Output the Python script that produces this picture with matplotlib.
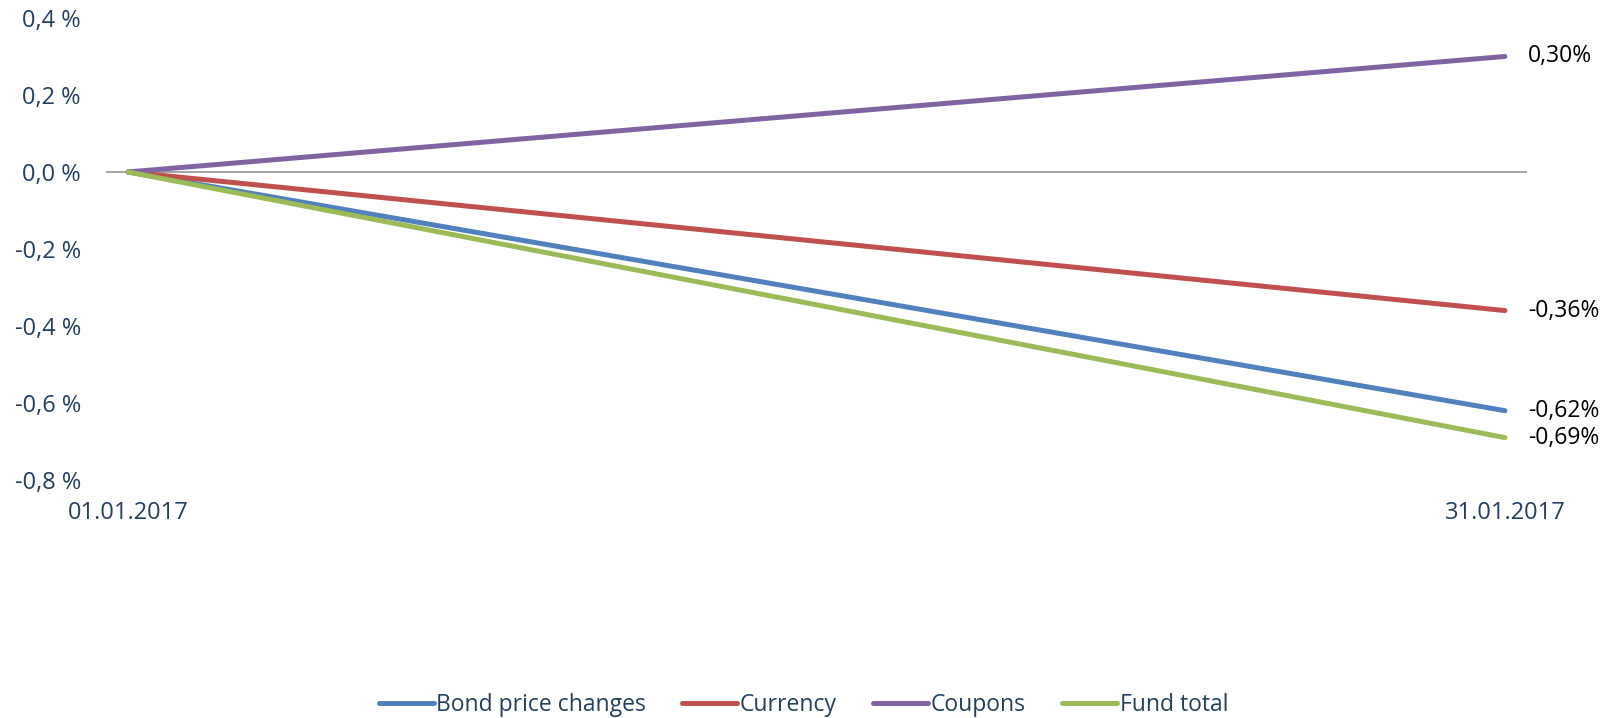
import matplotlib
matplotlib.use("Agg")
import matplotlib.pyplot as plt
from matplotlib.ticker import FuncFormatter

plt.rcParams['font.family'] = ['Open Sans', 'DejaVu Sans']

dates = ['01.01.2017', '31.01.2017']
bond = [0.0, -0.62]
currency = [0.0, -0.36]
coupons = [0.0, 0.30]
fund_total = [0.0, -0.69]

series = [
    ('Bond price changes', bond, '#4F81BD'),
    ('Currency', currency, '#C0504D'),
    ('Coupons', coupons, '#8064A2'),
    ('Fund total', fund_total, '#9BBB59'),
]
label_col = '#243F60'


def pct(v, decimals):
    s = ('%.' + str(decimals) + 'f') % v
    if float(s) == 0:
        s = s.lstrip('-')
    return s.replace('.', ',')


fig = plt.figure(figsize=(16.23, 7.18), dpi=100)
ax = fig.add_axes([0.0653, 0.3315, 0.8755, 0.6435])

x = list(range(len(dates)))
ax.axhline(0, color='#8C8C8C', lw=1.1, zorder=1)

handles = []
for name, vals, col in series:
    h, = ax.plot(x, vals, color=col, lw=3.6, solid_capstyle='round', label=name, zorder=3)
    handles.append(h)
    ax.annotate(pct(vals[-1], 2) + '%', xy=(x[-1], vals[-1]), xytext=(16.5, 0),
                textcoords='offset points', va='center', ha='left', fontsize=16.5,
                color='black')

ax.set_xlim(-0.016, 1.016)
ax.set_ylim(-0.8, 0.4)
ax.set_yticks([0.4, 0.2, 0.0, -0.2, -0.4, -0.6, -0.8])
ax.yaxis.set_major_formatter(FuncFormatter(lambda v, p: pct(v, 1) + ' %'))
ax.set_xticks(x)
ax.set_xticklabels(dates)
ax.tick_params(axis='y', length=0, pad=18, labelsize=17, labelcolor=label_col)
ax.tick_params(axis='x', length=0, pad=15, labelsize=17, labelcolor=label_col)
for s in ax.spines.values():
    s.set_visible(False)

fig.legend(handles=handles, labels=[s[0] for s in series], loc='center',
           bbox_to_anchor=(0.495, 0.018), ncol=4, frameon=False, fontsize=16.5,
           handlelength=2.4, handletextpad=0.1, columnspacing=1.6,
           labelcolor=label_col, borderpad=0)

fig.savefig('out.png', dpi=100)
